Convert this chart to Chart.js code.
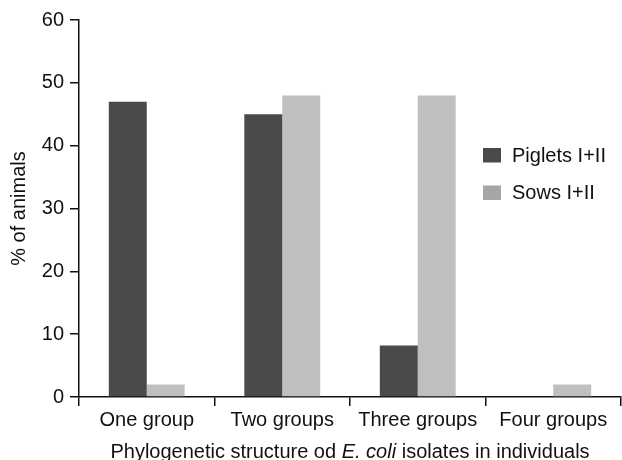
<!DOCTYPE html>
<html>
<head>
<meta charset="utf-8">
<script src="https://cdn.jsdelivr.net/npm/chart.js@4/dist/chart.umd.min.js"></script>
<style>
  html, body { margin: 0; padding: 0; background: #fff; }
  #wrap { width: 622px; height: 460px; position: relative; }
</style>
</head>
<body>
<div id="wrap"><canvas id="miGrafico"></canvas></div>
<script>
// datos del grafico
const categorias = ["One group", "Two groups", "Three groups", "Four groups"];
const piglets = [47, 45, 8.2, 0];
const sows = [2, 48, 48, 2];
const nombres = ["Piglets I+II", "Sows I+II"];
const ticksY = [0, 10, 20, 30, 40, 50, 60];

const fuente = "'Liberation Sans', Arial, sans-serif";
const negro = "#111";
const tam = 20;

// leyenda y titulo del eje x dibujados a mano (titulo lleva cursiva)
const extras = {
  id: "extras",
  afterDraw(chart) {
    const c = chart.ctx;
    const area = chart.chartArea;
    c.save();
    // leyenda
    const colores = ["#4a4a4a", "#a6a6a6"];
    c.font = tam + "px " + fuente;
    c.textBaseline = "middle";
    c.textAlign = "left";
    nombres.forEach((n, i) => {
      const y = 155 + i * 37.5;
      c.fillStyle = colores[i];
      c.fillRect(483, y - 7, 18, 14.5);
      c.fillStyle = negro;
      c.fillText(n, 512, y + 1);
    });
    // titulo eje x
    const normal = tam + "px " + fuente;
    const cursiva = "italic " + tam + "px " + fuente;
    const partes = [
      ["Phylogenetic structure od ", normal],
      ["E.", cursiva],
      [" ", normal],
      ["coli", cursiva],
      [" isolates in individuals", normal]
    ];
    let total = 0;
    partes.forEach(p => { c.font = p[1]; total += c.measureText(p[0]).width; });
    let x = (area.left + area.right) / 2 - total / 2;
    const yT = 452;
    partes.forEach(p => {
      c.font = p[1];
      c.fillText(p[0], x, yT);
      x += c.measureText(p[0]).width;
    });
    c.restore();
  }
};

const ctx = document.getElementById("miGrafico").getContext("2d");
const chart = new Chart(ctx, {
  type: "bar",
  data: {
    labels: categorias,
    datasets: [
      {
        label: nombres[0],
        data: piglets,
        backgroundColor: "#4a4a4a",
        borderWidth: 0
      },
      {
        label: nombres[1],
        data: sows,
        backgroundColor: "#bfbfbf",
        borderWidth: 0
      }
    ]
  },
  options: {
    responsive: true,
    maintainAspectRatio: false,
    animation: false,
    datasets: {
      bar: { barPercentage: 1, categoryPercentage: 0.56 }
    },
    layout: { padding: { top: 20, right: 1, left: 0, bottom: 0 } },
    plugins: {
      legend: { display: false },
      tooltip: { enabled: false }
    },
    scales: {
      x: {
        grid: {
          display: true,
          drawOnChartArea: false,
          drawTicks: true,
          tickLength: 9,
          color: negro,
          lineWidth: 1.5,
          offset: true
        },
        border: { display: true, color: negro, width: 1.5 },
        ticks: {
          color: negro,
          font: { family: fuente, size: tam },
          padding: 2,
          maxRotation: 0
        },
        afterFit: (s) => { s.height = 63; }
      },
      y: {
        min: 0,
        max: 60,
        afterBuildTicks: (s) => { s.ticks = ticksY.map(v => ({ value: v })); },
        grid: {
          display: true,
          drawOnChartArea: false,
          drawTicks: true,
          tickLength: 9,
          color: negro,
          lineWidth: 1.5
        },
        border: { display: true, color: negro, width: 1.5 },
        ticks: {
          color: negro,
          font: { family: fuente, size: tam },
          padding: 6
        },
        title: {
          display: true,
          text: "% of animals",
          color: negro,
          font: { family: fuente, size: tam },
          padding: { top: 7, bottom: 4 }
        },
        afterFit: (s) => { s.width = 79; }
      }
    }
  },
  plugins: [extras]
});
</script>
</body>
</html>
